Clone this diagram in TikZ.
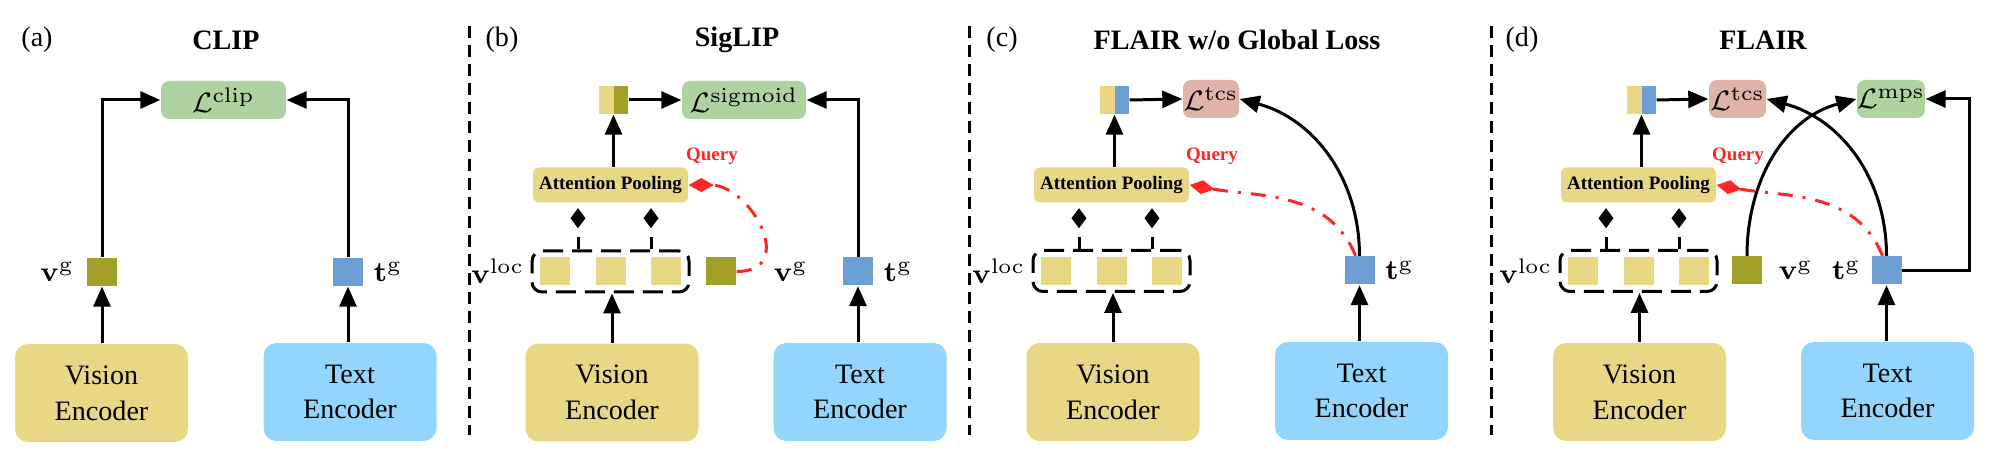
\documentclass[tikz,border=0pt]{standalone}
\usepackage[no-math]{fontspec}
\setmainfont{Liberation Serif}
\usetikzlibrary{arrows.meta,positioning}

\definecolor{visyellow}{HTML}{E8D784}
\definecolor{txtblue}{HTML}{93D5FC}
\definecolor{vgolive}{HTML}{A3A029}
\definecolor{tgblue}{HTML}{6D9FD4}
\definecolor{lossgreen}{HTML}{AED3A1}
\definecolor{losspink}{HTML}{E0B2A8}
\definecolor{qred}{HTML}{FF2626}

\tikzset{
  enc/.style={rounded corners=1.3mm, minimum width=17.3mm, minimum height=9.8mm,
    align=center, inner sep=0pt, font=\fontsize{8}{10.2}\selectfont},
  visenc/.style={enc, fill=visyellow},
  txtenc/.style={enc, fill=txtblue},
  loss/.style={rounded corners=0.8mm, minimum height=3.8mm, inner sep=0pt,
    font=\fontsize{8}{9}\selectfont},
  feat/.style={minimum width=3mm, minimum height=2.8mm, inner sep=0pt},
  catsq/.style={feat, minimum width=2.9mm, fill=#1,
    path picture={\fill[visyellow] (path picture bounding box.south west)
      rectangle (path picture bounding box.north);}},
  pool/.style={fill=visyellow, rounded corners=0.6mm, minimum width=15.5mm,
    minimum height=3.5mm, inner sep=0pt, font=\bfseries\fontsize{5.4}{6}\selectfont},
  locbox/.style={draw, line width=0.3mm, dash pattern=on 2mm off 0.9mm,
    rounded corners=1mm, minimum width=15.7mm, minimum height=4.1mm, inner sep=0pt},
  flow/.style={line width=0.3mm, -{Triangle[length=2mm,width=1.7mm]}},
  attn/.style={line width=0.3mm, dash pattern=on 1.2mm off 1.2mm,
    -{Diamond[length=2mm,width=1.5mm]}, shorten >=0.5mm},
  query/.style={qred, line width=0.3mm, dash pattern=on 1.5mm off 1mm on 0.3mm off 1mm,
    -{Diamond[length=2.5mm,width=1.4mm]}},
  qlabel/.style={text=qred, font=\bfseries\fontsize{5.4}{6}\selectfont},
  title/.style={font=\bfseries\fontsize{8}{10}\selectfont},
  tag/.style={font=\fontsize{8}{10}\selectfont},
  lbl/.style={font=\fontsize{8}{10}\selectfont, inner sep=1pt},
  sep/.style={line width=0.3mm, dash pattern=on 1.2mm off 0.7mm}
}

\begin{document}
\begin{tikzpicture}[x=0.1mm, y=-0.1mm]
\useasboundingbox (0,0) rectangle (1995,453);

% (a) CLIP
\node[tag] (aTag) at (37,40) {(a)};
\node[title] (aTitle) at (226,40) {CLIP};
\node[loss, fill=lossgreen, minimum width=12.5mm] (aLoss) at (223.5,100) {$\mathcal{L}^{\mathrm{clip}}$};
\node[feat, fill=vgolive] (aVg) at (102,272) {};
\node[lbl, left=0.8mm of aVg] (aVgLbl) {$\mathbf{v}^{\mathrm{g}}$};
\node[feat, fill=tgblue] (aTg) at (348,272) {};
\node[lbl, right=0.6mm of aTg] (aTgLbl) {$\mathbf{t}^{\mathrm{g}}$};
\node[visenc] (aVis) at (101.5,393) {Vision\\Encoder};
\node[txtenc] (aTxt) at (350,392) {Text\\Encoder};
\draw[flow] (aVg.south |- aVis.north) -- (aVg.south);
\draw[flow] (aTg.south |- aTxt.north) -- (aTg.south);
\draw[flow] (aVg.north) |- (aLoss.west);
\draw[flow] (aTg.north) |- (aLoss.east);
\draw[sep] (469,26) -- (469,435);

% (b) SigLIP
\node[tag] (bTag) at (502,40) {(b)};
\node[title] (bTitle) at (737,40) {SigLIP};
\node[catsq=vgolive] (bCat) at (613.5,100) {};
\node[loss, fill=lossgreen, minimum width=12.4mm] (bLoss) at (744,100) {$\mathcal{L}^{\mathrm{sigmoid}}$};
\node[pool] (bPool) at (610.5,185) {Attention Pooling};
\node[qlabel] (bQuery) at (712,156) {Query};
\node[locbox] (bLoc) at (610.5,271.5) {};
\node[feat, fill=visyellow] (bL2) at (bLoc) {};
\node[feat, fill=visyellow, left=2.45mm of bL2] (bL1) {};
\node[feat, fill=visyellow, right=2.45mm of bL2] (bL3) {};
\node[lbl, left=0.2mm of bLoc] (bLocLbl) {$\mathbf{v}^{\mathrm{loc}}$};
\coordinate (bK1) at ([xshift=-3.25mm]bLoc.north);
\coordinate (bK2) at ([xshift=4.05mm]bLoc.north);
\node[feat, fill=vgolive] (bVg) at (721,271.5) {};
\node[lbl, right=3.3mm of bVg] (bVgLbl) {$\mathbf{v}^{\mathrm{g}}$};
\node[feat, fill=tgblue] (bTg) at (858,271.5) {};
\node[lbl, right=0.6mm of bTg] (bTgLbl) {$\mathbf{t}^{\mathrm{g}}$};
\node[visenc] (bVis) at (612,392.5) {Vision\\Encoder};
\node[txtenc] (bTxt) at (860,392) {Text\\Encoder};
\draw[flow] (bVis.north) -- (bVis.north |- bLoc.south);
\draw[attn] (bK1) -- (bK1 |- bPool.south);
\draw[attn] (bK2) -- (bK2 |- bPool.south);
\draw[flow] (bCat.south |- bPool.north) -- (bCat.south);
\draw[flow] (bCat.east) -- (bLoss.west);
\draw[flow] (bTg.south |- bTxt.north) -- (bTg.south);
\draw[flow] (bTg.north) |- (bLoss.east);
\draw[query] (bVg.east) to[out=0, in=0, looseness=1.6] (bPool.east);
\draw[sep] (969,26) -- (969,435);

% (c) FLAIR w/o Global Loss
\node[tag] (cTag) at (1002,40) {(c)};
\node[title] (cTitle) at (1237,40) {FLAIR w/o Global Loss};
\node[catsq=tgblue] (cCat) at (1114.5,100) {};
\node[loss, fill=losspink, minimum width=5.6mm] (cLoss) at (1211,99) {$\mathcal{L}^{\mathrm{tcs}}$};
\node[pool] (cPool) at (1111.5,185) {Attention Pooling};
\node[qlabel] (cQuery) at (1212,156) {Query};
\node[locbox] (cLoc) at (1111.5,271) {};
\node[feat, fill=visyellow] (cL2) at (cLoc) {};
\node[feat, fill=visyellow, left=2.45mm of cL2] (cL1) {};
\node[feat, fill=visyellow, right=2.45mm of cL2] (cL3) {};
\node[lbl, left=0.2mm of cLoc] (cLocLbl) {$\mathbf{v}^{\mathrm{loc}}$};
\coordinate (cK1) at ([xshift=-3.25mm]cLoc.north);
\coordinate (cK2) at ([xshift=4.05mm]cLoc.north);
\node[feat, fill=tgblue] (cTg) at (1359.5,270.5) {};
\node[lbl, right=0.6mm of cTg] (cTgLbl) {$\mathbf{t}^{\mathrm{g}}$};
\node[visenc] (cVis) at (1113,392) {Vision\\Encoder};
\node[txtenc] (cTxt) at (1361.5,391) {Text\\Encoder};
\draw[flow] (cVis.north) -- (cVis.north |- cLoc.south);
\draw[attn] (cK1) -- (cK1 |- cPool.south);
\draw[attn] (cK2) -- (cK2 |- cPool.south);
\draw[flow] (cCat.south |- cPool.north) -- (cCat.south);
\draw[flow] (cCat.east) -- (cLoss.west);
\draw[flow] (cTg.south |- cTxt.north) -- (cTg.south);
\draw[flow] (cTg.north) to[out=90, in=-15] (cLoss.east);
\draw[query] ([xshift=-0.4mm]cTg.north) to[out=112, in=-10] (cPool.east);
\draw[sep] (1491,26) -- (1491,435);

% (d) FLAIR
\node[tag] (dTag) at (1522,40) {(d)};
\node[title] (dTitle) at (1763,40) {FLAIR};
\node[catsq=tgblue] (dCat) at (1641.5,100) {};
\node[loss, fill=losspink, minimum width=5.7mm] (dLoss) at (1737.5,99) {$\mathcal{L}^{\mathrm{tcs}}$};
\node[loss, fill=lossgreen, minimum width=6.4mm] (dMps) at (1891,99) {$\mathcal{L}^{\mathrm{mps}}$};
\node[pool] (dPool) at (1638.5,185) {Attention Pooling};
\node[qlabel] (dQuery) at (1738,156) {Query};
\node[locbox] (dLoc) at (1638.5,271) {};
\node[feat, fill=visyellow] (dL2) at (dLoc) {};
\node[feat, fill=visyellow, left=2.45mm of dL2] (dL1) {};
\node[feat, fill=visyellow, right=2.45mm of dL2] (dL3) {};
\node[lbl, left=0.2mm of dLoc] (dLocLbl) {$\mathbf{v}^{\mathrm{loc}}$};
\coordinate (dK1) at ([xshift=-3.25mm]dLoc.north);
\coordinate (dK2) at ([xshift=4.05mm]dLoc.north);
\node[feat, fill=vgolive] (dVg) at (1747,270.5) {};
\node[lbl, right=1.2mm of dVg] (dVgLbl) {$\mathbf{v}^{\mathrm{g}}$};
\node[feat, fill=tgblue] (dTg) at (1886.5,270.5) {};
\node[lbl, left=0.6mm of dTg] (dTgLbl) {$\mathbf{t}^{\mathrm{g}}$};
\node[visenc] (dVis) at (1639.5,392) {Vision\\Encoder};
\node[txtenc] (dTxt) at (1887.5,391) {Text\\Encoder};
\draw[flow] (dVis.north) -- (dVis.north |- dLoc.south);
\draw[attn] (dK1) -- (dK1 |- dPool.south);
\draw[attn] (dK2) -- (dK2 |- dPool.south);
\draw[flow] (dCat.south |- dPool.north) -- (dCat.south);
\draw[flow] (dCat.east) -- (dLoss.west);
\draw[flow] (dTg.south |- dTxt.north) -- (dTg.south);
\draw[flow] (dTg.north) to[out=90, in=-15] (dLoss.east);
\draw[flow] (dVg.north) to[out=90, in=195] (dMps.west);
\draw[flow] (dTg.east) -- ++(6.7mm,0) |- (dMps.east);
\draw[query] ([xshift=-0.4mm]dTg.north) to[out=112, in=-10] (dPool.east);
\end{tikzpicture}
\end{document}
